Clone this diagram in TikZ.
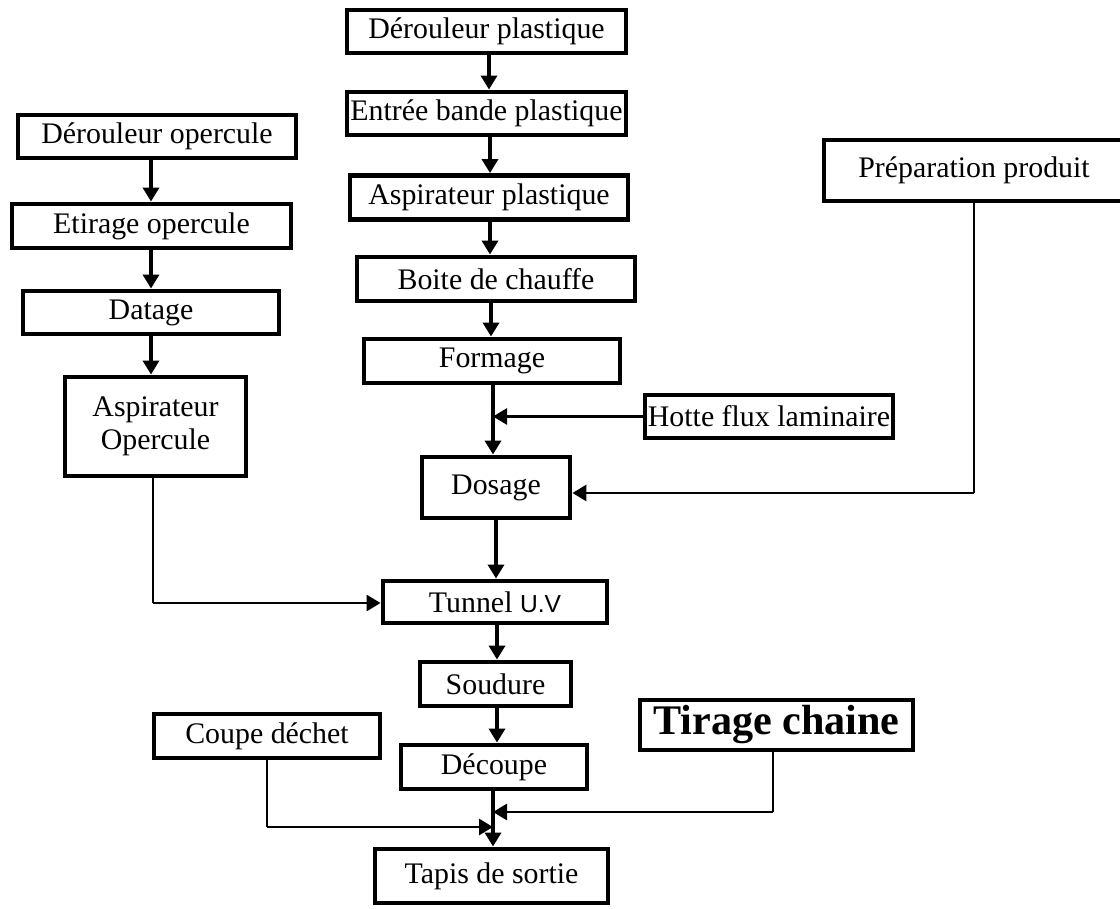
\documentclass[tikz,border=0pt]{standalone}
\usepackage{fontspec}
\setmainfont{Liberation Serif}
\newfontfamily\uvfont{Liberation Sans}
\usetikzlibrary{arrows.meta}

\begin{document}
\begin{tikzpicture}[x=0.02cm, y=-0.02cm,
    box/.style={draw, line width=2.8pt, inner sep=0pt, font=\fontsize{17}{19}\selectfont},
    arr/.style={line width=2pt, -{Triangle[length=0.28cm, width=0.32cm]}},
    feed/.style={line width=1.6pt, -{Triangle[length=0.28cm, width=0.32cm]}},
    thin line/.style={line width=1pt}]
    \useasboundingbox (0,0) rectangle (1120,909);

    % left column
    \node[box, minimum width=5.56cm, minimum height=0.86cm] (derop) at (157,136.5) {Dérouleur opercule};
    \node[box, minimum width=5.58cm, minimum height=0.88cm] (etirage) at (151.5,226) {Etirage opercule};
    \node[box, minimum width=5.12cm, minimum height=0.86cm] (datage) at (151,312.5) {Datage};
    \node[box, minimum width=3.62cm, minimum height=1.98cm, align=center] (aspop) at (155.5,426.5) {Aspirateur\\Opercule};

    \draw[arr] (derop.south -| 151,0) -- (etirage.north -| 151,0);
    \draw[arr] (etirage.south -| 151,0) -- (datage.north -| 151,0);
    \draw[arr] (datage.south -| 151,0) -- (aspop.north -| 151,0);

    % middle column
    \node[box, minimum width=5.58cm, minimum height=0.86cm] (derp) at (486.5,31.5) {Dérouleur plastique};
    \node[box, minimum width=5.58cm, minimum height=0.86cm] (entree) at (486.5,113.5) {Entrée bande plastique};
    \node[box, minimum width=5.56cm, minimum height=0.88cm] (aspp) at (489,197.5) {Aspirateur plastique};
    \node[box, minimum width=5.56cm, minimum height=0.88cm] (boite) at (496,279) {Boite de chauffe};
    \node[box, minimum width=5.12cm, minimum height=0.88cm] (formage) at (492,361) {Formage};
    \node[box, minimum width=2.96cm, minimum height=1.22cm] (dosage) at (496,487.5) {Dosage};
    \node[box, minimum width=4.48cm, minimum height=0.84cm] (tunnel) at (495,602) {Tunnel {\uvfont\fontsize{14}{16}\selectfont U.V}};
    \node[box, minimum width=3.02cm, minimum height=0.88cm] (soudure) at (495.5,684) {Soudure};
    \node[box, minimum width=3.72cm, minimum height=0.88cm] (decoupe) at (494,767) {Découpe};
    \node[box, minimum width=4.66cm, minimum height=1.08cm] (tapis) at (491.5,876) {Tapis de sortie};

    \draw[arr] (derp.south -| 489,0) -- (entree.north -| 489,0);
    \draw[arr] (entree.south -| 490,0) -- (aspp.north -| 490,0);
    \draw[arr] (aspp.south -| 490,0) -- (boite.north -| 490,0);
    \draw[arr] (boite.south -| 491,0) -- (formage.north -| 491,0);
    \draw[arr] (formage.south -| 493,0) -- (dosage.north -| 493,0);
    \draw[arr] (dosage.south -| 496,0) -- (tunnel.north -| 496,0);
    \draw[arr] (tunnel.south -| 497,0) -- (soudure.north -| 497,0);
    \draw[arr] (soudure.south -| 497,0) -- (decoupe.north -| 497,0);
    \draw[arr] (decoupe.south -| 493,0) -- (tapis.north -| 493,0);

    % side inputs
    \node[box, minimum width=4.96cm, minimum height=0.86cm] (hotte) at (769,416.5) {Hotte flux laminaire};
    \node[box, minimum width=6.0cm, minimum height=1.22cm] (prep) at (974,170.5) {Préparation produit};
    \node[box, minimum width=4.52cm, minimum height=0.88cm] (coupe) at (267,736) {Coupe déchet};
    \node[box, minimum width=5.46cm, minimum height=1.0cm, font=\fontsize{24}{26}\selectfont\bfseries] (tirage) at (776.5,725) {Tirage chaine};

    \coordinate (prepc) at (prep.south |- 0,493);
    \coordinate (aspc) at (153,603);
    \coordinate (coupec) at (coupe.south |- 0,827);
    \coordinate (tirc) at (773,812);

    \draw[feed] (hotte.west) -- (hotte.west -| 493,0);
    \draw[thin line] (prep.south) -- (prepc);
    \draw[feed] (prepc) -- (prepc -| dosage.east);
    \draw[thin line] (aspop.south -| aspc) -- (aspc);
    \draw[feed] (aspc) -- (aspc -| tunnel.west);
    \draw[thin line] (coupe.south) -- (coupec);
    \draw[feed] (coupec) -- (coupec -| 493,0);
    \draw[thin line] (tirage.south -| tirc) -- (tirc);
    \draw[feed] (tirc) -- (tirc -| 493,0);
\end{tikzpicture}
\end{document}
